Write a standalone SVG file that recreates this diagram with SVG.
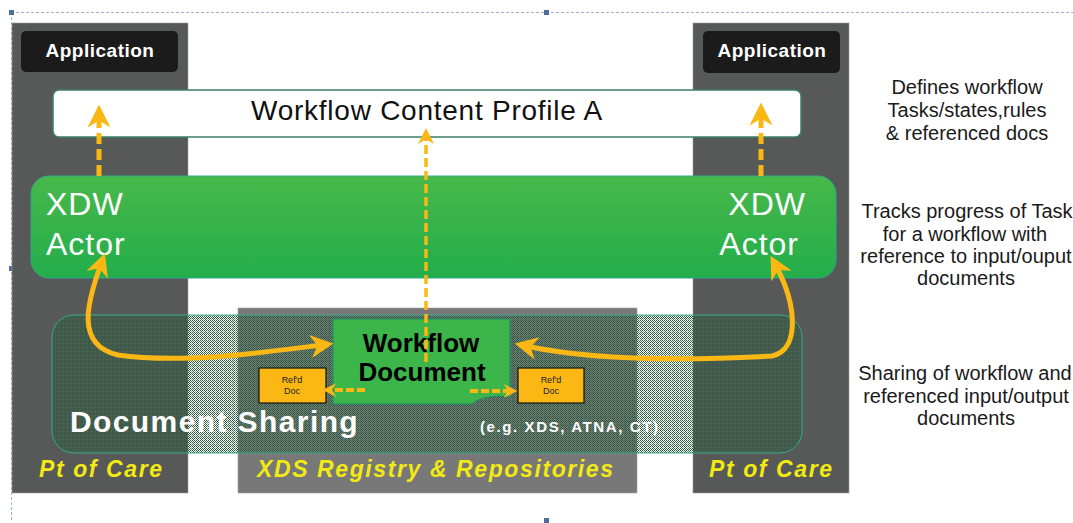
<svg xmlns="http://www.w3.org/2000/svg" width="1073" height="523" viewBox="0 0 1073 523">
<defs>
<style>
.col{fill:#575958}
.app{fill:#1b1b1b}
.apptxt{font-family:"Liberation Sans",Arial,sans-serif;font-weight:bold;font-size:19px;letter-spacing:0.5px;fill:#ffffff;text-anchor:middle}
.note{font-family:"Liberation Sans",Arial,sans-serif;font-size:20px;fill:#1a1a1a;text-anchor:middle}
.xdw{font-family:"Liberation Sans",Arial,sans-serif;font-size:32px;letter-spacing:1px;fill:#ffffff}
.care{font-family:"Liberation Sans",Arial,sans-serif;font-weight:bold;font-style:italic;font-size:23px;letter-spacing:1.6px;fill:#f2ea12}
.arr{fill:none;stroke:#fbb814;stroke-linecap:butt}
.ref{fill:#fbb814;stroke:#111;stroke-width:1.2}
.reftxt{font-family:"Liberation Sans",Arial,sans-serif;font-size:9px;fill:#222;text-anchor:middle}
.sel{fill:none;stroke:#9fb3cc;stroke-width:1;stroke-dasharray:3 2}
.handle{fill:#4a6f9c}
</style>
<linearGradient id="gGreen" x1="0" y1="0" x2="0" y2="1">
<stop offset="0" stop-color="#48b84a"/>
<stop offset="1" stop-color="#22ae4b"/>
</linearGradient>
<pattern id="hatch" width="4" height="4" patternUnits="userSpaceOnUse">
<rect x="0" y="0" width="1" height="1" fill="#2a5c3e"/>
<rect x="2" y="0" width="1" height="1" fill="#2a5c3e"/>
<rect x="1" y="1" width="1" height="1" fill="#2a5c3e"/>
<rect x="3" y="1" width="1" height="1" fill="#2a5c3e"/>
<rect x="0" y="2" width="1" height="1" fill="#2a5c3e"/>
<rect x="2" y="2" width="1" height="1" fill="#2a5c3e"/>
<rect x="1" y="3" width="1" height="1" fill="#2a5c3e"/>
<rect x="3" y="3" width="1" height="1" fill="#3f7a58" fill-opacity="0.6"/>
</pattern>
<marker id="ahBig" viewBox="0 0 10 10" refX="5" refY="5" markerWidth="4.6" markerHeight="4.6" orient="auto-start-reverse" markerUnits="strokeWidth">
<path d="M0,0 L10,5 L0,10 L3,5 Z" fill="#fbb814"/>
</marker>
<marker id="ahSmall" viewBox="0 0 10 10" refX="6" refY="5" markerWidth="3.4" markerHeight="3.4" orient="auto" markerUnits="strokeWidth">
<path d="M0,0 L10,5 L0,10 L3,5 Z" fill="#fbb814"/>
</marker>
</defs>

<rect width="1073" height="523" fill="#ffffff"/>

<g id="selection">
<line class="sel" x1="11" y1="12.5" x2="1073" y2="12.5"/>
<line class="sel" x1="11.5" y1="12" x2="11.5" y2="521"/>
<rect class="handle" x="9" y="10" width="5" height="5"/>
<rect class="handle" x="544" y="10" width="5" height="5"/>
<rect class="handle" x="9" y="266" width="5" height="5"/>
<rect class="handle" x="544" y="518" width="5" height="5"/>
</g>

<g id="pt-of-care-left">
<rect class="col" x="12" y="23" width="176" height="470" stroke="#9a9a9a" stroke-width="0.6"/>
<text class="care" x="39" y="477">Pt of Care</text>
</g>
<g id="pt-of-care-right">
<rect class="col" x="693" y="23" width="156" height="470" stroke="#9a9a9a" stroke-width="0.6"/>
<text class="care" x="709" y="477">Pt of Care</text>
</g>
<g id="xds-registry">
<rect x="238" y="308" width="399" height="185" fill="#787878" stroke="#a0a0a0" stroke-width="0.6"/>
<text class="care" x="257" y="477" font-size="22.5" letter-spacing="2">XDS Registry &amp; Repositories</text>
</g>

<g id="application-left">
<rect class="app" x="21" y="31" width="157" height="41" rx="5"/>
<text class="apptxt" x="100" y="57">Application</text>
</g>
<g id="application-right">
<rect class="app" x="703" y="31" width="137" height="42" rx="5"/>
<text class="apptxt" x="772" y="57">Application</text>
</g>

<g id="workflow-content-profile">
<rect x="53" y="90" width="748" height="47" rx="6" fill="#ffffff" stroke="#3d7f6a" stroke-width="1.5"/>
<text x="427" y="120" font-family="'Liberation Sans',Arial,sans-serif" font-size="28" letter-spacing="0.75" fill="#111" text-anchor="middle">Workflow Content Profile A</text>
</g>

<g id="xdw-actor">
<rect x="31" y="176" width="805" height="102" rx="18" fill="url(#gGreen)" stroke="#2fa88a" stroke-width="1"/>
<text class="xdw" x="46" y="215">XDW</text>
<text class="xdw" x="46" y="255">Actor</text>
<text class="xdw" x="806" y="215" text-anchor="end">XDW</text>
<text class="xdw" x="799" y="255" text-anchor="end">Actor</text>
</g>

<g id="document-sharing">
<rect x="52" y="315" width="750" height="138" rx="22" fill="url(#hatch)" stroke="#3aa88a" stroke-width="1"/>
<text x="70" y="432" font-family="'Liberation Sans',Arial,sans-serif" font-weight="bold" font-size="30" letter-spacing="1.4" fill="#ffffff">Document Sharing</text>
<text x="480" y="432" font-family="'Liberation Sans',Arial,sans-serif" font-weight="bold" font-size="15" letter-spacing="1.6" fill="#ffffff">(e.g. XDS, ATNA, CT)</text>
</g>

<g id="workflow-document">
<path d="M333,319 H510 V397 Q490,394 476,401 L472,404 H333 Z" fill="#3cb54a" stroke="#1f8f6a" stroke-width="1"/>
<text x="421" y="352" font-family="'Liberation Sans',Arial,sans-serif" font-weight="bold" font-size="26" fill="#000" text-anchor="middle">Workflow</text>
<text x="422" y="381" font-family="'Liberation Sans',Arial,sans-serif" font-weight="bold" font-size="26" fill="#000" text-anchor="middle">Document</text>
</g>

<g id="refd-doc-left">
<rect class="ref" x="259" y="368" width="67" height="35"/>
<text class="reftxt" x="292" y="383">Ref'd</text>
<text class="reftxt" x="292" y="394">Doc</text>
</g>
<g id="refd-doc-right">
<rect class="ref" x="518" y="368" width="66" height="35"/>
<text class="reftxt" x="551" y="383">Ref'd</text>
<text class="reftxt" x="551" y="394">Doc</text>
</g>

<g id="connectors">
<line class="arr" x1="99" y1="176" x2="99" y2="116" stroke-width="5" stroke-dasharray="11 5" marker-end="url(#ahBig)"/>
<line class="arr" x1="761" y1="176" x2="761" y2="114" stroke-width="5" stroke-dasharray="11 5" marker-end="url(#ahBig)"/>
<line class="arr" x1="426" y1="362" x2="426" y2="136" stroke-width="3.5" stroke-dasharray="9 4" marker-end="url(#ahBig)"/>
<path class="arr" d="M101,264 C88,300 74,345 118,355 C180,364 260,353 322,345" stroke-width="5" marker-start="url(#ahBig)" marker-end="url(#ahBig)"/>
<path class="arr" d="M526,346 C600,362 700,360 772,356 C800,350 797,305 776,266" stroke-width="5" marker-start="url(#ahBig)" marker-end="url(#ahBig)"/>
<line class="arr" x1="365" y1="390" x2="328" y2="390" stroke-width="4" stroke-dasharray="8 3" marker-end="url(#ahSmall)"/>
<line class="arr" x1="470" y1="391" x2="512" y2="391" stroke-width="4" stroke-dasharray="8 3" marker-end="url(#ahSmall)"/>
</g>

<g id="notes">
<text class="note" x="967" y="94">Defines workflow</text>
<text class="note" x="967" y="117">Tasks/states,rules</text>
<text class="note" x="967" y="140">&amp; referenced docs</text>
<text class="note" x="967" y="218">Tracks progress of Task</text>
<text class="note" x="965" y="241">for a workflow with</text>
<text class="note" x="966" y="263">reference to input/ouput</text>
<text class="note" x="966" y="285">documents</text>
<text class="note" x="965" y="380">Sharing of workflow and</text>
<text class="note" x="966" y="403">referenced input/output</text>
<text class="note" x="966" y="425">documents</text>
</g>
</svg>
